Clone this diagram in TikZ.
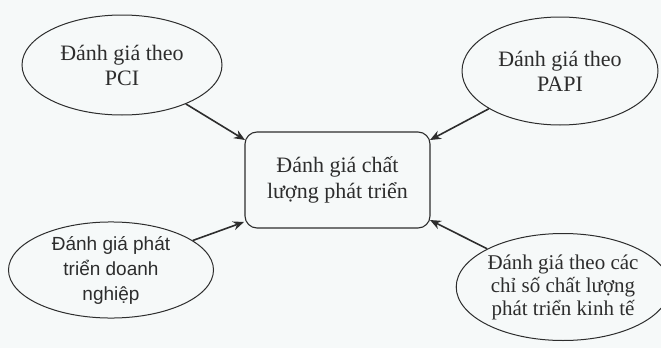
\documentclass[tikz,border=0pt]{standalone}
\usepackage{fontspec}
\setmainfont{Liberation Serif}
\newfontfamily\bsans{Liberation Sans}
\usetikzlibrary{shapes.geometric,arrows.meta}
\definecolor{bg}{RGB}{246,249,249}
\definecolor{ink}{RGB}{45,45,45}
\begin{document}
\begin{tikzpicture}[x=1pt,y=-1pt,
  oval/.style={ellipse,draw=ink,line width=1pt,inner sep=0pt,align=center,text=ink,font=\fontsize{22}{25}\selectfont},
  mainbox/.style={draw=ink,line width=1.1pt,rounded corners=12pt,align=center,text=ink,font=\fontsize{22}{26}\selectfont,inner sep=0pt},
  conn/.style={draw=ink,line width=1.6pt,-{Stealth[length=11pt,width=9pt]}}]
\fill[bg] (0,0) rectangle (661,348);
\useasboundingbox (0,0) rectangle (661,348);
\node[mainbox,minimum width=185pt,minimum height=96pt] (box) at (337.5,180) {Đánh giá chất\\lượng phát triển};
\node[oval,minimum width=200pt,minimum height=100pt] (pci) at (122,65) {Đánh giá theo\\PCI};
\node[oval,minimum width=196pt,minimum height=108pt] (papi) at (560,71) {Đánh giá theo\\PAPI};
\node[oval,minimum width=205pt,minimum height=96pt,font=\bsans\fontsize{19}{25}\selectfont] (dn) at (111,270) {Đánh giá phát\\triển doanh\\nghiệp};
\node[oval,minimum width=195pt,minimum height=107pt,font=\fontsize{21}{23}\selectfont] (kt) at (563,287) {Đánh giá theo các\\chỉ số chất lượng\\phát triển kinh tế};
\coordinate (t1) at (245,140);
\coordinate (t2) at (430,140);
\coordinate (t3) at (244,222);
\coordinate (t4) at (430,220);
\draw[conn] (pci) -- (t1);
\draw[conn] (papi) -- (t2);
\draw[conn] (dn) -- (t3);
\draw[conn] (kt) -- (t4);
\end{tikzpicture}
\end{document}
